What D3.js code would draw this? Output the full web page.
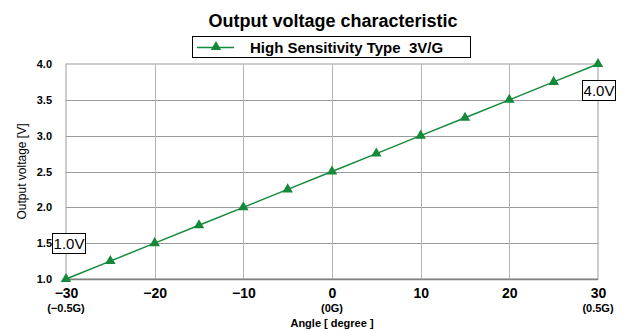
<!DOCTYPE html>
<html>
<head>
<meta charset="utf-8">
<script src="https://cdn.jsdelivr.net/npm/d3@7"></script>
<style>
  html, body { margin: 0; padding: 0; background: #fff; }
  svg { display: block; }
  text { font-family: "Liberation Sans", Arial, sans-serif; fill: #000; white-space: pre; }
</style>
</head>
<body>
<svg id="chart" width="624" height="332"></svg>
<script>
// Output voltage vs tilt angle, high sensitivity type (3V/G)
const angles = [-30, -25, -20, -15, -10, -5, 0, 5, 10, 15, 20, 25, 30];
const voltages = [1.0, 1.25, 1.5, 1.75, 2.0, 2.25, 2.5, 2.75, 3.0, 3.25, 3.5, 3.75, 4.0];
const xTicks = [-30, -20, -10, 0, 10, 20, 30];
const yTicks = [1.0, 1.5, 2.0, 2.5, 3.0, 3.5, 4.0];
const gLabels = [
  { angle: -30, text: "(\u22120.5G)" },
  { angle: 0, text: "(0G)" },
  { angle: 30, text: "(0.5G)" }
];
const callouts = [
  { angle: -30, volt: 1.0, text: "1.0V", dx: -14, dy: -46 },
  { angle: 30, volt: 4.0, text: "4.0V", dx: -16, dy: 16 }
];
const title = "Output voltage characteristic";
const seriesName = "High Sensitivity Type  3V/G";

const green = "#15893a";
const svg = d3.select("#chart");
const plot = { left: 66, right: 598, top: 64, bottom: 279 };

const x = d3.scaleLinear().domain([-30, 30]).range([plot.left, plot.right]);
const y = d3.scaleLinear().domain([1.0, 4.0]).range([plot.bottom, plot.top]);

// plot frame
svg.append("rect")
  .attr("x", plot.left).attr("y", plot.top)
  .attr("width", plot.right - plot.left).attr("height", plot.bottom - plot.top)
  .attr("fill", "none").attr("stroke", "#9a9a9a").attr("stroke-width", 1);

// horizontal gridlines
svg.append("g").selectAll("line")
  .data(yTicks.slice(1, -1))
  .join("line")
  .attr("x1", plot.left).attr("x2", plot.right)
  .attr("y1", d => Math.round(y(d)) + 0.5).attr("y2", d => Math.round(y(d)) + 0.5)
  .attr("stroke", "#9a9a9a").attr("stroke-width", 1);

// vertical gridlines
svg.append("g").selectAll("line")
  .data(xTicks.slice(1, -1))
  .join("line")
  .attr("x1", d => Math.round(x(d)) + 0.5).attr("x2", d => Math.round(x(d)) + 0.5)
  .attr("y1", plot.top).attr("y2", plot.bottom)
  .attr("stroke", "#b4b4b4").attr("stroke-width", 1);

// bottom axis line
svg.append("line")
  .attr("x1", plot.left).attr("x2", plot.right)
  .attr("y1", plot.bottom + 0.5).attr("y2", plot.bottom + 0.5)
  .attr("stroke", "#808080").attr("stroke-width", 1.5);

// y tick labels
const yAxis = d3.axisLeft(y).tickValues(yTicks).tickFormat(d3.format(".1f")).tickSize(0).tickPadding(14);
const gy = svg.append("g").attr("transform", `translate(${plot.left},0)`).call(yAxis);
gy.select(".domain").remove();
gy.selectAll("text").attr("font-size", 11).attr("font-weight", "bold")
  .attr("font-family", "'Liberation Sans', Arial, sans-serif").attr("fill", "#000");

// x tick labels
const xAxis = d3.axisBottom(x).tickValues(xTicks)
  .tickFormat(d => d < 0 ? "\u2212" + Math.abs(d) : String(d)).tickSize(0).tickPadding(9);
const gx = svg.append("g").attr("transform", `translate(0,${plot.bottom})`).call(xAxis);
gx.select(".domain").remove();
gx.selectAll("text").attr("font-size", 14).attr("font-weight", "bold")
  .attr("font-family", "'Liberation Sans', Arial, sans-serif").attr("fill", "#000");

// g-equivalent labels under the angle ticks
svg.append("g").selectAll("text")
  .data(gLabels)
  .join("text")
  .attr("x", d => x(d.angle)).attr("y", 312)
  .attr("text-anchor", "middle").attr("font-size", 11).attr("font-weight", "bold")
  .text(d => d.text);

// axis titles
svg.append("text")
  .attr("x", x(0)).attr("y", 327).attr("text-anchor", "middle")
  .attr("font-size", 11).attr("font-weight", "bold")
  .text("Angle [ degree ]");
svg.append("text")
  .attr("transform", `translate(26,${y(2.5)}) rotate(-90)`)
  .attr("text-anchor", "middle").attr("font-size", 12)
  .text("Output voltage [V]");

// title
svg.append("text")
  .attr("x", 333).attr("y", 27).attr("text-anchor", "middle")
  .attr("font-size", 18).attr("font-weight", "bold")
  .text(title);

// series line
const line = d3.line().x((d, i) => x(angles[i])).y(d => y(d));
svg.append("path").datum(voltages)
  .attr("d", line).attr("fill", "none").attr("stroke", green).attr("stroke-width", 1.5);

// triangle markers
const tri = d3.symbol().type(d3.symbolTriangle).size(48);
svg.append("g").selectAll("path")
  .data(voltages)
  .join("path")
  .attr("transform", (d, i) => `translate(${x(angles[i])},${y(d)})`)
  .attr("d", tri).attr("fill", green);

// legend
const lg = svg.append("g").attr("transform", "translate(192,36)");
lg.append("rect").attr("x", 0.5).attr("y", 0.5).attr("width", 278).attr("height", 21)
  .attr("fill", "#fff").attr("stroke", "#000").attr("stroke-width", 1);
lg.append("line").attr("x1", 5).attr("x2", 42).attr("y1", 11.5).attr("y2", 11.5)
  .attr("stroke", green).attr("stroke-width", 1.5);
lg.append("path").attr("transform", "translate(24,11)").attr("d", tri).attr("fill", green);
lg.append("text").attr("x", 58).attr("y", 17).attr("font-size", 15).attr("font-weight", "bold")
  .text(seriesName);

// value callouts
const cg = svg.append("g").selectAll("g")
  .data(callouts)
  .join("g")
  .attr("transform", d => `translate(${x(d.angle) + d.dx},${y(d.volt) + d.dy})`);
cg.append("rect").attr("x", 0.5).attr("y", 0.5).attr("width", 33).attr("height", 20)
  .attr("fill", "#fff").attr("stroke", "#000").attr("stroke-width", 1);
cg.append("text").attr("x", 17).attr("y", 16).attr("text-anchor", "middle")
  .attr("font-size", 15).text(d => d.text);
</script>
</body>
</html>
